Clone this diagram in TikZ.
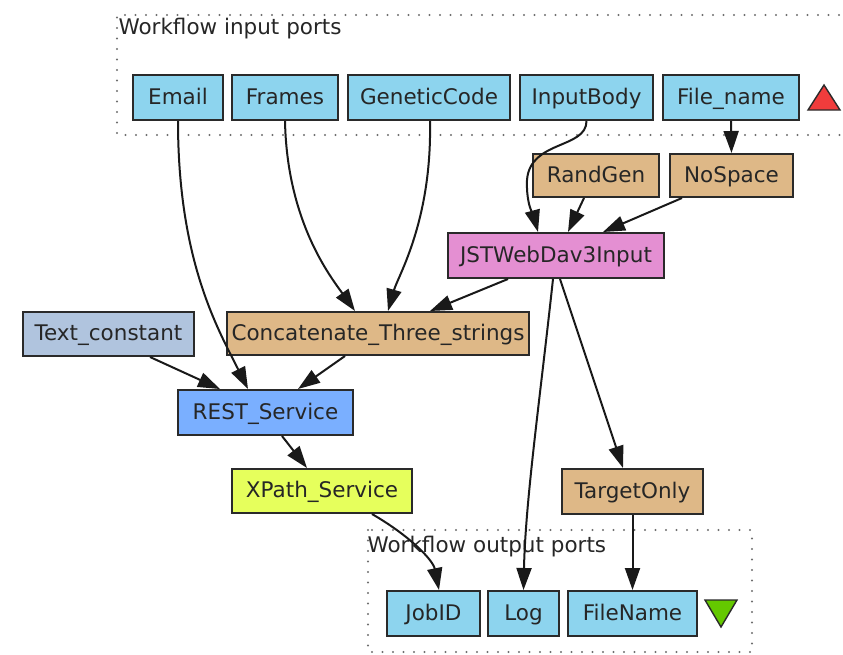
\documentclass[tikz,border=0pt]{standalone}
\usepackage{fontspec}
\setmainfont{DejaVu Sans}
\usetikzlibrary{arrows.meta}

\definecolor{portblue}{HTML}{8DD4EE}
\definecolor{beanshell}{HTML}{DEB887}
\definecolor{webdav}{HTML}{E48FD2}
\definecolor{textconst}{HTML}{B0C4DE}
\definecolor{restblue}{HTML}{7AAFFF}
\definecolor{xpathyel}{HTML}{E6FF5C}
\definecolor{boxline}{HTML}{2A2A2A}
\definecolor{dotgray}{HTML}{6E6E6E}

\begin{document}
\begin{tikzpicture}[x=1pt,y=-1pt,
  every node/.style={font=\fontsize{21.5}{26}\selectfont, text=black!85},
  proc/.style={draw=boxline, line width=2pt, inner sep=0pt, align=center,
    text height=16.5pt, text depth=3.5pt},
  portbox/.style={proc, fill=portblue},
  beanbox/.style={proc, fill=beanshell},
  flow/.style={line width=2pt, draw=black!90, -{Triangle[length=22pt,width=15pt]}},
  groupframe/.style={draw=dotgray, line width=2.2pt, line cap=round, dash pattern=on 0pt off 10.5pt},
]
\useasboundingbox (0,0) rectangle (843,654);

% port groups
\draw[groupframe] (860,15) -- (117,15) -- (117,135) -- (860,135);
\node[anchor=west] (intitle) at (115,29) {Workflow input ports};
\draw[groupframe] (368,530) rectangle (752,652);
\node[anchor=west] (outtitle) at (364,547) {Workflow output ports};

% workflow input ports
\node[portbox, minimum width=90pt, minimum height=45pt] (Email) at (178,97.5) {Email};
\node[portbox, minimum width=106pt, minimum height=45pt] (Frames) at (285,97.5) {Frames};
\node[portbox, minimum width=162pt, minimum height=45pt] (Genetic) at (429,97.5) {GeneticCode};
\node[portbox, minimum width=133pt, minimum height=45pt] (InputBody) at (586.5,97.5) {InputBody};
\node[portbox, minimum width=136pt, minimum height=45pt] (FileIn) at (731,97.5) {File\_name};
\draw[boxline, line width=1.4pt, fill={rgb,255:red,240;green,60;blue,60}] (808,110) -- (824,85) -- (840,110) -- cycle;

% processors
\node[beanbox, minimum width=126pt, minimum height=43pt] (RandGen) at (596,175.5) {RandGen};
\node[beanbox, minimum width=123pt, minimum height=43pt] (NoSpace) at (731.5,175.5) {NoSpace};
\node[proc, fill=webdav, minimum width=216pt, minimum height=45pt] (JST) at (556,255.5) {JSTWebDav3Input};
\node[proc, fill=textconst, minimum width=171pt, minimum height=44pt] (TextConst) at (108.5,334) {Text\_constant};
\node[beanbox, minimum width=302pt, minimum height=43pt] (Concat) at (378,333.5) {Concatenate\_Three\_strings};
\node[proc, fill=restblue, minimum width=175pt, minimum height=45pt] (REST) at (265.5,412.5) {REST\_Service};
\node[proc, fill=xpathyel, minimum width=180pt, minimum height=44pt] (XPath) at (322,491) {XPath\_Service};
\node[beanbox, minimum width=141pt, minimum height=45pt] (Target) at (632.5,491.5) {TargetOnly};

% workflow output ports
\node[portbox, minimum width=93pt, minimum height=45pt] (JobID) at (433.5,613.5) {JobID};
\node[portbox, minimum width=71pt, minimum height=45pt] (Log) at (523.5,613.5) {Log};
\node[portbox, minimum width=129pt, minimum height=45pt] (FileOut) at (632.5,613.5) {FileName};
\draw[boxline, line width=1.4pt, fill={rgb,255:red,100;green,200;blue,0}] (705,600) -- (737,600) -- (721,627) -- cycle;

% data links
\draw[flow] (Email.south) .. controls +(0,140) and +(-30,-60) .. ([xshift=-17.5pt]REST.north);
\draw[flow] (Frames.south) .. controls +(2,100) and +(-25,-35) .. ([xshift=-23pt]Concat.north);
\draw[flow] ([xshift=1pt]Genetic.south) .. controls +(2,100) and +(10,-35) .. ([xshift=10pt]Concat.north);
\draw[flow] (InputBody.south) .. controls +(0,28) and +(3,-40) .. (527,180) .. controls +(-1,25) and +(-4,-15) .. ([xshift=-18pt]JST.north);
\draw[flow] ([xshift=-12pt]RandGen.south) -- ([xshift=12pt]JST.north);
\draw[flow] ([xshift=-49.5pt]NoSpace.south) -- ([xshift=47pt]JST.north);
\draw[flow] (FileIn.south) -- (NoSpace.north);
\draw[flow] ([xshift=-48pt]JST.south) -- ([xshift=52pt]Concat.north);
\draw[flow] ([xshift=41.5pt]TextConst.south) -- ([xshift=-45.5pt]REST.north);
\draw[flow] ([xshift=-33pt]Concat.south) -- ([xshift=32.5pt]REST.north);
\draw[flow] ([xshift=16.5pt]REST.south) -- ([xshift=-15pt]XPath.north);
\draw[flow] ([xshift=50pt]XPath.south) .. controls +(38,22) and +(-6,-30) .. ([xshift=5.5pt]JobID.north);
\draw[flow] ([xshift=-3pt]JST.south) .. controls +(-13,120) and +(2,-90) .. (Log.north);
\draw[flow] ([xshift=4pt]JST.south) -- ([xshift=-9.5pt]Target.north);
\draw[flow] (Target.south) -- (FileOut.north);
\end{tikzpicture}
\end{document}
